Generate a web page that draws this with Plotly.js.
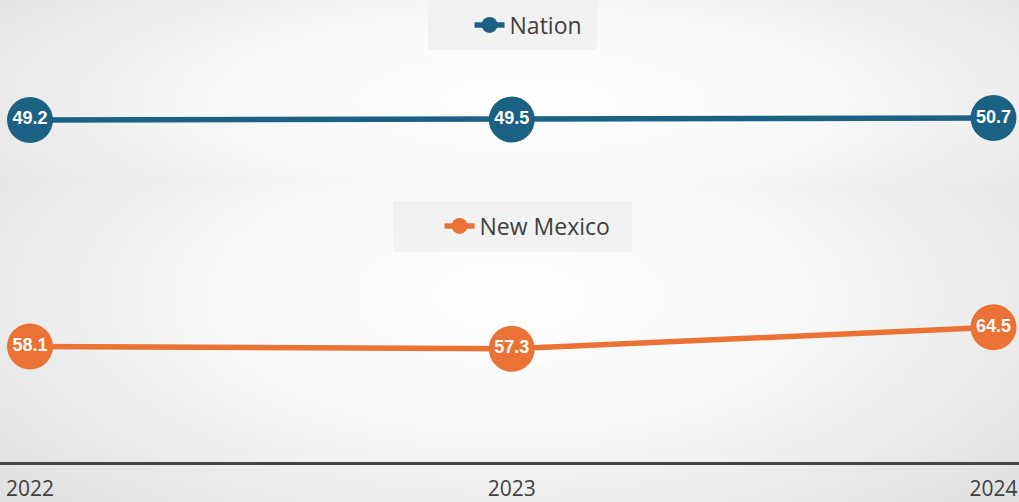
<!DOCTYPE html>
<html>
<head>
<meta charset="utf-8">
<script src="https://cdn.plot.ly/plotly-3.0.1.min.js"></script>
<style>
  html, body { margin: 0; padding: 0; background: #ffffff; }
  #wrap { position: relative; width: 1019px; height: 502px; overflow: hidden; }
  #bgTop { position: absolute; left: 0; top: 0; width: 1019px; height: 185px;
    background: radial-gradient(ellipse 75% 120% at 52% 55%, #ffffff 0%, #f8f8f8 40%, #dcdcdc 100%); }
  #bgBot { position: absolute; left: 0; top: 185px; width: 1019px; height: 317px;
    background: radial-gradient(ellipse 75% 110% at 50% 35%, #ffffff 0%, #f7f7f7 40%, #dadada 100%); }
  #chart { position: absolute; left: 0; top: 0; width: 1019px; height: 502px; }
</style>
</head>
<body>
<div id="wrap">
  <div id="bgTop"></div>
  <div id="bgBot"></div>
  <div id="chart"></div>
</div>
<script>
const years = ["2022", "2023", "2024"];
const nation = [49.2, 49.5, 50.7];
const newMexico = [58.1, 57.3, 64.5];

const xIdx = years.map((_, i) => i);
const navy = "#1a6183";
const orange = "#ea7234";

const labelFont = { family: "Liberation Sans, Arial, sans-serif", size: 18, color: "#ffffff", weight: "bold" };

const traces = [
  {
    name: "Nation", x: xIdx, y: nation, xaxis: "x", yaxis: "y2",
    mode: "lines+markers+text", type: "scatter",
    line: { color: navy, width: 5.5 },
    marker: { color: navy, size: 46 },
    text: nation.map(v => v.toFixed(1)), textposition: "middle center",
    textfont: labelFont, cliponaxis: false, legend: "legend",
    hoverinfo: "skip"
  },
  {
    name: "New Mexico", x: xIdx, y: newMexico, xaxis: "x", yaxis: "y",
    mode: "lines+markers+text", type: "scatter",
    line: { color: orange, width: 5.5 },
    marker: { color: orange, size: 46 },
    text: newMexico.map(v => v.toFixed(1)), textposition: "middle center",
    textfont: labelFont, cliponaxis: false, legend: "legend2",
    hoverinfo: "skip"
  }
];

const plotH = 462;
const splitPx = 185;
const split = 1 - splitPx / plotH;

const layout = {
  width: 1019, height: 502,
  margin: { l: 0, r: 0, t: 0, b: 40 },
  paper_bgcolor: "rgba(0,0,0,0)",
  plot_bgcolor: "rgba(0,0,0,0)",
  showlegend: true,
  xaxis: {
    range: [-0.0623, 2.053], tickvals: xIdx, ticktext: years,
    showgrid: false, zeroline: false, showline: true,
    linecolor: "#444444", linewidth: 3,
    tickfont: { family: "Open Sans, sans-serif", size: 21, color: "#404040" },
    ticks: "", ticklabelstandoff: 6, automargin: false, fixedrange: true
  },
  yaxis: {
    domain: [0, split], range: [19.6, 111.9],
    visible: false, showgrid: false, zeroline: false, fixedrange: true
  },
  yaxis2: {
    domain: [split, 1], range: [0, 140],
    visible: false, showgrid: false, zeroline: false, fixedrange: true
  },
  legend: {
    x: 0.503 + 16 / 1019, xanchor: "center", y: 1 - 25 / plotH, yanchor: "middle",
    bgcolor: "rgba(0,0,0,0)",
    font: { family: "Open Sans, sans-serif", size: 23, color: "#404040" },
    itemclick: false, itemdoubleclick: false
  },
  legend2: {
    x: 0.503 + 15 / 1019, xanchor: "center", y: 1 - 226 / plotH, yanchor: "middle",
    bgcolor: "rgba(0,0,0,0)",
    font: { family: "Open Sans, sans-serif", size: 23, color: "#404040" },
    itemclick: false, itemdoubleclick: false
  },
  shapes: [
    { type: "rect", xref: "paper", yref: "paper", layer: "below",
      x0: 428 / 1019, x1: 597 / 1019, y0: 1 - 50 / plotH, y1: 1,
      fillcolor: "rgba(240,240,240,0.85)", line: { width: 0 } },
    { type: "rect", xref: "paper", yref: "paper", layer: "below",
      x0: 393 / 1019, x1: 632 / 1019, y0: 1 - 252 / plotH, y1: 1 - 201 / plotH,
      fillcolor: "rgba(240,240,240,0.85)", line: { width: 0 } }
  ]
};

Plotly.newPlot("chart", traces, layout, { displayModeBar: false, staticPlot: true });
</script>
</body>
</html>
